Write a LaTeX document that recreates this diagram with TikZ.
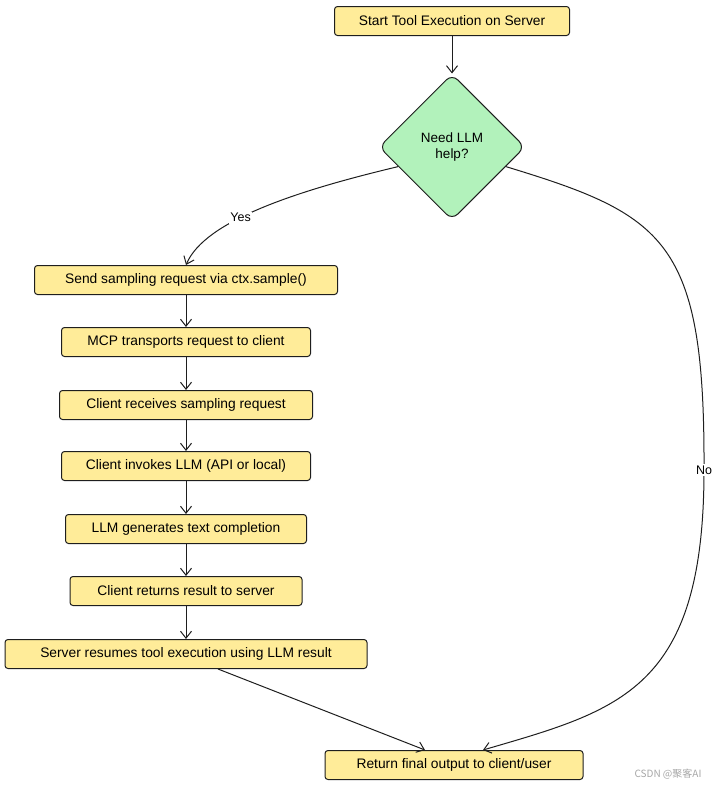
\documentclass[tikz,border=0pt]{standalone}
\usepackage{fontspec}
\setmainfont{Liberation Sans}
\newfontfamily\cjk{Noto Sans CJK SC}
\usetikzlibrary{shapes.geometric,arrows.meta}
\definecolor{boxyellow}{HTML}{FFEC99}
\definecolor{decgreen}{HTML}{B2F2BB}
\definecolor{ink}{HTML}{1E1E1E}

\begin{document}
\begin{tikzpicture}[
  x=1pt, y=-1pt,
  box/.style={rectangle,rounded corners=3pt,draw=ink,fill=boxyellow,line width=1pt,minimum height=29pt,inner sep=0pt,font=\fontsize{13.8}{15}\selectfont},
  dec/.style={diamond,draw=ink,fill=decgreen,rounded corners=8pt,line width=1pt,minimum width=146pt,minimum height=146pt,inner sep=0pt,align=center,font=\fontsize{13.5}{16}\selectfont},
  arr/.style={draw=ink,line width=1pt,-{Straight Barb[length=7pt,width=11pt]}},
  lbl/.style={fill=white,inner sep=1.5pt,font=\fontsize{12.5}{14}\selectfont}
]
\useasboundingbox (0,0) rectangle (720,787);

% start and decision
\node[box,minimum width=235pt] (start) at (452,21) {Start Tool Execution on Server};
\node[dec] (need) at (452,147) {Need LLM\\help?};

% sampling chain
\node[box,minimum width=303pt] (send) at (186,280) {Send sampling request via ctx.sample()};
\node[box,minimum width=249pt] (mcp)  at (186,342) {MCP transports request to client};
\node[box,minimum width=253pt] (recv) at (186,405) {Client receives sampling request};
\node[box,minimum width=249pt] (invk) at (186,466) {Client invokes LLM (API or local)};
\node[box,minimum width=241pt] (gen)  at (186,529) {LLM generates text completion};
\node[box,minimum width=232pt] (rtn)  at (186,591) {Client returns result to server};
\node[box,minimum width=362pt] (res)  at (186,654) {Server resumes tool execution using LLM result};

% end
\node[box,minimum width=258pt] (final) at (454,765) {Return final output to client/user};

\draw[arr] (start) -- (need);

\foreach \i/\j in {send/mcp,mcp/recv,recv/invk,invk/gen,gen/rtn,rtn/res}
  \draw[arr] (\i) -- (\j);

\draw[arr] (need.200) .. controls (300,190) and (205,220) .. node[lbl,pos=0.6]{Yes} (send.north);
\draw[arr] (need.340) .. controls (665,215) and (705,240) .. (704,470) node[lbl]{No}
  .. controls (704,690) and (620,710) .. ([xshift=29pt]final.north);
\draw[arr] ([xshift=32pt]res.south) -- ([xshift=-29pt]final.north);

% watermark
\node[text=black!35,font=\cjk\fontsize{10}{12}\selectfont] (mark) at (668,774) {CSDN @聚客AI};
\end{tikzpicture}
\end{document}
